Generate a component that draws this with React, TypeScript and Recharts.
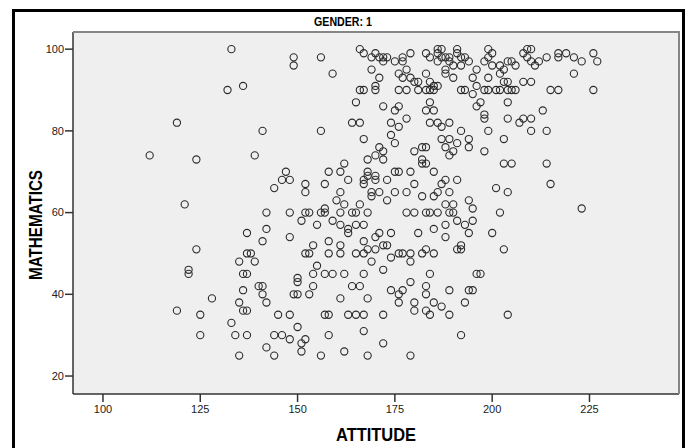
import React from 'react';
import { ScatterChart, Scatter, XAxis, YAxis, CartesianGrid, Label } from 'recharts';

// ATTITUDE / MATHEMATICS pairs
const attitudeTopLeft = [
  133, 149, 149, 156, 159, 132, 136, 119, 141, 156,
  112, 124, 139, 121, 147, 146, 148, 144, 152, 152,
  157, 158, 161, 162, 163, 161, 160, 162, 166, 167,
  164, 166, 165, 166, 167, 170, 170, 169, 166, 167,
  170, 169, 168, 170, 172, 168, 168, 167, 167, 170,
  170, 169, 169, 172,
];
const mathTopLeft = [
  100, 98, 96, 98, 94, 90, 91, 82, 80, 80,
  74, 73, 74, 62, 70, 68, 68, 66, 67, 65,
  67, 70, 70, 72, 68, 65, 63, 62, 62, 78,
  82, 82, 87, 90, 90, 91, 90, 95, 100, 99,
  99, 98, 73, 74, 73, 70, 69, 68, 67, 69,
  68, 65, 64, 97,
];

const attitudeTopRight = [
  171, 172, 173, 175, 177, 177, 179,
  183, 184, 186, 187, 186, 187, 186, 188, 189, 189, 190, 191, 191, 192, 193, 192, 194,
  196, 198, 199, 200, 199, 200, 202, 204, 205, 206, 203, 202,
  208, 209, 210, 209, 210, 211, 212, 214,
  217, 217, 219, 221, 223, 226, 227, 221,
  171, 176, 177, 178, 179, 180, 181, 183, 184, 185, 186,
  188, 188, 190, 195, 196, 195, 199, 203, 204, 208, 210,
  176, 178, 181, 183, 184, 185, 192, 193, 198, 199, 201, 202, 204, 205, 206, 215, 217, 226,
  172, 175, 176, 184, 183, 185, 197, 196, 204, 213,
  178, 174, 176, 184, 186, 187, 189, 198, 198, 204, 207, 208, 210,
  192, 199, 210, 214, 203,
  174, 175, 187, 189, 194, 188, 190, 191, 194, 189, 198,
  171, 172, 180, 182, 183, 182, 182, 183, 203, 205, 214,
  175, 176, 179, 185, 188, 187, 191, 201, 204, 215,
  173, 171, 175, 178, 180, 182, 185, 186, 189,
  173, 188, 190, 194, 223,
];
const mathTopRight = [
  98, 98, 98, 97, 98, 97, 99,
  99, 98, 100, 100, 99, 98, 97, 98, 97, 98, 96, 100, 99, 98, 98, 96, 97,
  95, 97, 100, 99, 98, 96, 96, 97, 97, 96, 95, 94,
  99, 100, 100, 98, 97, 96, 97, 98,
  99, 98, 99, 98, 97, 99, 97, 94,
  93, 94, 93, 95, 93, 92, 92, 94, 92, 91, 91,
  95, 94, 93, 93, 91, 89, 93, 92, 92, 92, 92,
  90, 90, 90, 90, 90, 90, 90, 90, 90, 90, 90, 90, 90, 90, 90, 90, 90, 90,
  86, 85, 86, 87, 85, 85, 87, 86, 87, 85,
  83, 82, 81, 82, 82, 81, 82, 84, 83, 83, 82, 83, 83,
  80, 80, 80, 80, 78,
  79, 77, 78, 78, 78, 76, 75, 77, 76, 74, 75,
  76, 75, 75, 76, 76, 73, 72, 72, 72, 72, 72,
  70, 70, 70, 70, 68, 67, 68, 66, 65, 67,
  68, 65, 65, 65, 67, 64, 64, 65, 65,
  63, 62, 62, 63, 61,
];

const attitudeBottomLeft = [
  142, 148, 152, 153, 156, 157, 157, 161, 164, 165, 168,
  151, 155, 159, 161, 163, 163, 165, 167,
  137, 142, 141, 148, 154, 158, 161, 167, 171, 170,
  124, 137, 138, 135, 139, 152, 153, 158, 161, 165, 167, 168, 170, 169, 172, 173, 172,
  122, 122, 136, 137, 155, 154, 157, 159, 162, 167, 150, 150,
  140, 141, 136, 141, 142, 135, 136, 137, 149, 150, 153, 154, 164, 166, 161, 168, 128,
  119, 125, 145, 148, 157, 158, 163, 165, 167, 172, 133,
  125, 134, 137, 144, 146, 148, 150, 151, 152, 158, 167, 172,
  142, 144, 135, 151, 156, 162, 168,
];
const mathBottomLeft = [
  60, 60, 60, 60, 60, 60, 61, 60, 60, 60, 60,
  58, 57, 58, 57, 56, 55, 57, 57,
  55, 56, 53, 54, 52, 53, 52, 53, 55, 54,
  51, 50, 50, 48, 48, 50, 50, 50, 50, 50, 50, 51, 51, 48, 52, 52, 46,
  46, 45, 45, 45, 47, 45, 45, 45, 45, 45, 44, 43,
  42, 42, 41, 40, 38, 38, 36, 36, 40, 40, 40, 42, 42, 42, 39, 39, 39,
  36, 35, 35, 35, 35, 35, 35, 35, 35, 35, 33,
  30, 30, 30, 30, 30, 29, 32, 28, 29, 30, 31, 28,
  27, 25, 25, 26, 25, 26, 25,
];

const attitudeBottomRight = [
  178, 180, 183, 184, 186, 189, 190, 202, 195,
  191, 193, 195, 188, 185, 181, 174, 194, 200, 188,
  174, 176, 177, 179, 179, 182, 183, 185, 191, 192, 192, 203,
  184, 196, 197, 179, 174, 177, 176, 183, 183, 189, 194, 195,
  176, 180, 180, 183, 184, 185, 187, 189, 193, 204, 192, 179,
];
const mathBottomRight = [
  60, 60, 60, 60, 60, 60, 60, 60, 61,
  58, 57, 58, 57, 56, 55, 55, 55, 55, 54,
  49, 50, 50, 50, 48, 50, 51, 50, 51, 52, 51, 51,
  45, 45, 45, 43, 41, 41, 40, 42, 40, 41, 41, 41,
  38, 38, 36, 36, 35, 38, 37, 35, 38, 35, 30, 25,
];

const xTicks = [100, 125, 150, 175, 200, 225];
const yTicks = [20, 40, 60, 80, 100];
const xDomain = [92.3, 248];
const yDomain = [15.6, 104.2];

const chartTitle = 'GENDER: 1';
const xTitle = 'ATTITUDE';
const yTitle = 'MATHEMATICS';

const attitude = [...attitudeTopLeft, ...attitudeTopRight, ...attitudeBottomLeft, ...attitudeBottomRight];
const mathematics = [...mathTopLeft, ...mathTopRight, ...mathBottomLeft, ...mathBottomRight];
const points = attitude.map((a, i) => ({ attitude: a, math: mathematics[i] }));

const narrowBold = '"Liberation Sans Narrow", "Arial Narrow", "Liberation Sans", Arial, sans-serif';
const plainFont = '"Liberation Sans", Arial, sans-serif';

const Ring = (props: any) => (
  <circle cx={props.cx} cy={props.cy} r={3.6} fill="none" stroke="#2b2b2b" strokeWidth={1.1} />
);

const XTitleLabel = ({ viewBox }: any) => (
  <text
    x={viewBox.x + viewBox.width / 2}
    y={viewBox.y + 47}
    textAnchor="middle"
    fontFamily={narrowBold}
    fontWeight="bold"
    fontSize={18}
    textLength={80}
    lengthAdjust="spacingAndGlyphs"
    fill="#000"
  >
    {xTitle}
  </text>
);

const YTitleLabel = ({ viewBox }: any) => {
  const cx = viewBox.x + 42;
  const cy = viewBox.y + 193;
  return (
    <text
      x={cx}
      y={cy}
      transform={`rotate(-90, ${cx}, ${cy})`}
      textAnchor="middle"
      fontFamily={narrowBold}
      fontWeight="bold"
      fontSize={18}
      textLength={110}
      lengthAdjust="spacingAndGlyphs"
      fill="#000"
    >
      {yTitle}
    </text>
  );
};

export default function App() {
  return (
    <div
      style={{
        position: 'fixed',
        left: 0,
        top: 0,
        width: 689,
        height: 448,
        overflow: 'hidden',
        background: '#fff',
      }}
    >
      <ScatterChart width={689} height={448} margin={{ top: 32, right: 10, bottom: 0, left: 0 }}>
        <CartesianGrid fill="#efefef" stroke="none" horizontal={false} vertical={false} />
        <XAxis
          type="number"
          dataKey="attitude"
          domain={xDomain}
          allowDataOverflow
          ticks={xTicks}
          interval={0}
          height={54}
          tickSize={8}
          tickMargin={3}
          tick={{ fill: '#222', fontSize: 11, fontFamily: plainFont }}
          axisLine={{ stroke: '#333', strokeWidth: 1.5 }}
          tickLine={{ stroke: '#333', strokeWidth: 1.5 }}
        >
          <Label content={<XTitleLabel />} />
        </XAxis>
        <YAxis
          type="number"
          dataKey="math"
          domain={yDomain}
          allowDataOverflow
          ticks={yTicks}
          interval={0}
          width={73}
          tickSize={8}
          tickMargin={1}
          tick={{ fill: '#222', fontSize: 11, fontFamily: plainFont }}
          axisLine={{ stroke: '#333', strokeWidth: 1.5 }}
          tickLine={{ stroke: '#333', strokeWidth: 1.5 }}
        >
          <Label content={<YTitleLabel />} />
        </YAxis>
        <Scatter data={points} shape={<Ring />} isAnimationActive={false} />
      </ScatterChart>
      {/* top / right frame of the plot area */}
      <div
        style={{
          position: 'absolute',
          left: 73,
          top: 31,
          width: 607,
          height: 363,
          borderTop: '2px solid #868686',
          borderRight: '2px solid #868686',
          boxSizing: 'border-box',
          pointerEvents: 'none',
        }}
      />
      <svg
        width={689}
        height={32}
        style={{ position: 'absolute', left: 0, top: 0, pointerEvents: 'none' }}
      >
        <text
          x={343}
          y={26}
          textAnchor="middle"
          fontFamily={narrowBold}
          fontWeight="bold"
          fontSize={13}
          textLength={58}
          lengthAdjust="spacingAndGlyphs"
          fill="#000"
        >
          {chartTitle}
        </text>
      </svg>
      <div
        style={{
          position: 'absolute',
          left: 12,
          top: 9,
          width: 673,
          height: 480,
          border: '3px solid #000',
          boxSizing: 'border-box',
          pointerEvents: 'none',
        }}
      />
    </div>
  );
}
